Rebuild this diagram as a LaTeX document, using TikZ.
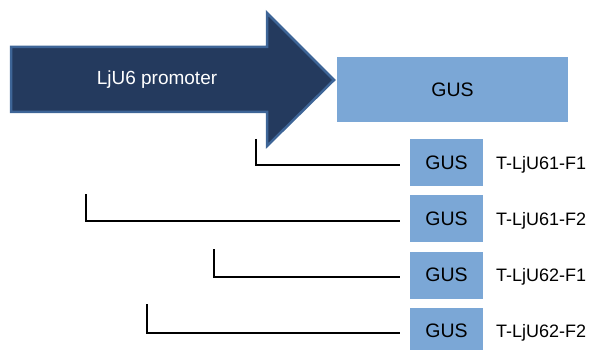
\documentclass[tikz,border=0pt]{standalone}
\usepackage{fontspec}
\setmainfont{Liberation Sans}
\definecolor{navy}{HTML}{243A5E}
\definecolor{navyedge}{HTML}{3E6597}
\definecolor{gusblue}{HTML}{7BA7D6}
\begin{document}
\begin{tikzpicture}[x=1pt,y=-1pt,
  gusbox/.style={fill=gusblue,draw=none,inner sep=0pt,font=\fontsize{19.5}{22}\selectfont},
  lab/.style={anchor=west,inner sep=0pt,font=\fontsize{18}{21}\selectfont},
  conn/.style={draw=black,line width=1.3pt}]
\useasboundingbox (0,0) rectangle (594,350);
% promoter arrow
\draw[fill=navy,draw=navyedge,line width=2.5pt,line join=miter]
  (11,47) -- (267,47) -- (267,13) -- (334,80) -- (267,146) -- (267,112) -- (11,112) -- cycle;
\node[text=white,font=\fontsize{19}{22}\selectfont] (prom) at (157,80) {LjU6 promoter};
% big GUS
\node[gusbox,minimum width=231pt,minimum height=65pt] (big) at (452.5,89.5) {GUS};
% small GUS boxes
\node[gusbox,minimum width=73pt,minimum height=47pt,text depth=-6pt] (g1) at (446.5,162.5) {GUS};
\node[gusbox,minimum width=73pt,minimum height=47pt,text depth=-6pt] (g2) at (446.5,218.5) {GUS};
\node[gusbox,minimum width=73pt,minimum height=47pt,text depth=-6pt] (g3) at (446.5,275) {GUS};
\node[gusbox,minimum width=73pt,minimum height=47pt,text depth=-6pt] (g4) at (446.5,331) {GUS};
% labels
\node[lab] (l1) at (496,165) {T-LjU61-F1};
\node[lab] (l2) at (496,221) {T-LjU61-F2};
\node[lab] (l3) at (496,277) {T-LjU62-F1};
\node[lab] (l4) at (496,333) {T-LjU62-F2};
% connectors
\coordinate (s1) at (256,139);
\coordinate (s2) at (86,194);
\coordinate (s3) at (214,249);
\coordinate (s4) at (147,304);
\draw[conn] (s1) |- ([xshift=-10pt]g1.west |- l1.west);
\draw[conn] (s2) |- ([xshift=-10pt]g2.west |- l2.west);
\draw[conn] (s3) |- ([xshift=-10pt]g3.west |- l3.west);
\draw[conn] (s4) |- ([xshift=-10pt]g4.west |- l4.west);
\end{tikzpicture}
\end{document}
